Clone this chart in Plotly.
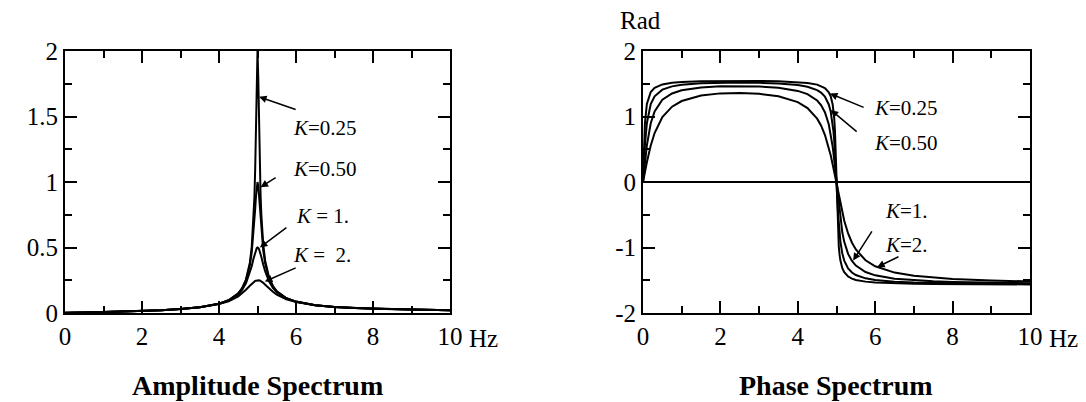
import plotly.graph_objects as go

# Frequency axis (Hz), sampled densely around the 5 Hz resonance
freq = [0, 0.02, 0.05, 0.1, 0.2, 0.3, 0.5, 0.75, 1, 1.5, 2, 2.5, 3, 3.5, 4,
        4.25, 4.5, 4.6, 4.7, 4.8, 4.85, 4.9, 4.92, 4.94, 4.96, 4.98, 5,
        5.02, 5.04, 5.06, 5.08, 5.1, 5.15, 5.2, 5.3, 5.4, 5.5, 5.75, 6,
        6.5, 7, 7.5, 8, 9, 10]

# Amplitude spectrum for each damping K
amp_k025 = [0.000, 0.000, 0.000, 0.001, 0.001, 0.002, 0.003, 0.005, 0.007, 0.011, 0.015,
            0.021, 0.030, 0.044, 0.071, 0.097, 0.150, 0.190, 0.255, 0.382, 0.505, 0.732,
            0.884, 1.100, 1.405, 1.783, 2.000, 1.791, 1.417, 1.111, 0.898, 0.747, 0.520,
            0.398, 0.271, 0.206, 0.166, 0.113, 0.087, 0.060, 0.046, 0.038, 0.033, 0.026,
            0.021]
amp_k050 = [0.001, 0.001, 0.001, 0.001, 0.001, 0.002, 0.003, 0.005, 0.007, 0.011, 0.015,
            0.021, 0.030, 0.044, 0.071, 0.097, 0.149, 0.187, 0.249, 0.362, 0.462, 0.616,
            0.700, 0.794, 0.890, 0.968, 1.000, 0.972, 0.897, 0.803, 0.711, 0.629, 0.475,
            0.377, 0.264, 0.203, 0.165, 0.113, 0.087, 0.060, 0.046, 0.038, 0.033, 0.026,
            0.021]
amp_k1 = [0.001, 0.001, 0.001, 0.001, 0.002, 0.002, 0.003, 0.005, 0.007, 0.011, 0.015,
          0.021, 0.030, 0.044, 0.070, 0.095, 0.144, 0.177, 0.227, 0.305, 0.358, 0.419,
          0.443, 0.465, 0.483, 0.495, 0.500, 0.497, 0.487, 0.471, 0.450, 0.428, 0.369,
          0.318, 0.241, 0.192, 0.159, 0.111, 0.086, 0.060, 0.046, 0.038, 0.033, 0.026,
          0.021]
amp_k2 = [0.002, 0.002, 0.002, 0.002, 0.002, 0.003, 0.004, 0.005, 0.007, 0.011, 0.015,
          0.021, 0.030, 0.043, 0.068, 0.090, 0.127, 0.150, 0.177, 0.208, 0.223, 0.237,
          0.241, 0.245, 0.247, 0.249, 0.250, 0.250, 0.249, 0.248, 0.245, 0.241, 0.230,
          0.216, 0.188, 0.162, 0.141, 0.105, 0.083, 0.059, 0.046, 0.038, 0.033, 0.026,
          0.021]

# Phase spectrum (rad) for each damping K
ph_k025 = [0.000, 0.466, 0.899, 1.192, 1.374, 1.438, 1.490, 1.515, 1.528, 1.539, 1.543,
           1.544, 1.543, 1.538, 1.525, 1.513, 1.487, 1.467, 1.435, 1.370, 1.307, 1.188,
           1.105, 0.981, 0.784, 0.462, -0.004, -0.469, -0.792, -0.990, -1.113, -1.196,
           -1.316, -1.378, -1.443, -1.476, -1.495, -1.521, -1.534, -1.547, -1.553, -1.557,
           -1.560, -1.562, -1.564]
ph_k050 = [0.000, 0.246, 0.561, 0.898, 1.191, 1.309, 1.410, 1.460, 1.485, 1.507, 1.516,
           1.518, 1.514, 1.504, 1.480, 1.455, 1.404, 1.365, 1.303, 1.184, 1.075, 0.891,
           0.780, 0.638, 0.457, 0.238, -0.008, -0.253, -0.473, -0.654, -0.796, -0.906,
           -1.091, -1.200, -1.319, -1.382, -1.420, -1.471, -1.497, -1.523, -1.536, -1.543,
           -1.548, -1.554, -1.558]
ph_k1 = [0.000, 0.125, 0.304, 0.560, 0.896, 1.079, 1.256, 1.352, 1.400, 1.444, 1.461,
         1.465, 1.458, 1.438, 1.391, 1.342, 1.244, 1.174, 1.066, 0.882, 0.739, 0.545,
         0.449, 0.344, 0.230, 0.109, -0.016, -0.141, -0.262, -0.376, -0.481, -0.576,
         -0.771, -0.914, -1.098, -1.206, -1.276, -1.375, -1.425, -1.476, -1.501, -1.516,
         -1.525, -1.537, -1.544]
ph_k2 = [0.000, 0.063, 0.156, 0.302, 0.556, 0.748, 0.991, 1.150, 1.236, 1.320, 1.353,
         1.360, 1.347, 1.308, 1.219, 1.129, 0.967, 0.863, 0.721, 0.527, 0.407, 0.271,
         0.214, 0.154, 0.093, 0.031, -0.032, -0.094, -0.156, -0.218, -0.277, -0.335,
         -0.471, -0.592, -0.785, -0.927, -1.031, -1.195, -1.287, -1.383, -1.432, -1.461,
         -1.480, -1.504, -1.518]

# Tick labels
x_tickvals = [0, 2, 4, 6, 8, 10]
x_ticktext = ["0", "2", "4", "6", "8", "10"]
amp_tickvals = [0, 0.5, 1, 1.5, 2]
amp_ticktext = ["0", "0.5", "1", "1.5", "2"]
ph_tickvals = [-2, -1, 0, 1, 2]
ph_ticktext = ["-2", "-1", "0", "1", "2"]

# Curve labels: (text, text x, text y, arrow tail x, tail y, arrow tip x, tip y)
amp_labels = [
    ("<i>K</i>=0.25", 5.88, 1.41, 6.03, 1.55, 5.04, 1.65),
    ("<i>K</i>=0.50", 5.88, 1.10, 5.51, 1.04, 5.08, 0.96),
    ("<i>K</i> = 1.", 5.95, 0.74, 5.79, 0.66, 5.06, 0.50),
    ("<i>K</i> =  2.", 5.88, 0.44, 6.03, 0.35, 5.19, 0.24),
]
ph_labels = [
    ("<i>K</i>=0.25", 5.92, 1.13, 5.74, 1.13, 4.83, 1.35),
    ("<i>K</i>=0.50", 5.92, 0.59, 5.56, 0.75, 4.85, 1.10),
    ("<i>K</i>=1.", 6.20, -0.44, 5.94, -0.73, 5.43, -1.20),
    ("<i>K</i>=2.", 6.20, -0.96, 6.64, -1.13, 6.05, -1.30),
]

SERIF = "Liberation Serif"
W, H = 1086, 402

fig = go.Figure()
line = dict(color="black", width=2)
for ys in (amp_k025, amp_k050, amp_k1, amp_k2):
    fig.add_trace(go.Scatter(x=freq, y=ys, mode="lines", line=line,
                             xaxis="x", yaxis="y", showlegend=False))
for ys in (ph_k025, ph_k050, ph_k1, ph_k2):
    fig.add_trace(go.Scatter(x=freq, y=ys, mode="lines", line=line,
                             xaxis="x2", yaxis="y2", showlegend=False))


def steps(lo, hi, step):
    n = int(round((hi - lo) / step))
    return [lo + i * step for i in range(n + 1)]


def axis(domain, rng, tickvals, ticktext, minor_step, anchor, **kw):
    return dict(
        domain=domain, range=rng, anchor=anchor, automargin=False,
        tickmode="array", tickvals=tickvals, ticktext=ticktext,
        showline=True, linecolor="black", linewidth=2, mirror="allticks",
        ticks="inside", ticklen=12, tickwidth=2, tickcolor="black",
        minor=dict(ticks="inside", ticklen=7, tickwidth=1.5, tickcolor="black",
                   tickmode="array", tickvals=steps(rng[0], rng[1], minor_step),
                   showgrid=False),
        showgrid=False, zeroline=False,
        tickfont=dict(family=SERIF, size=25, color="black"),
        fixedrange=True, **kw)


y_dom = [1 - 313 / H, 1 - 51 / H]
fig.update_layout(
    template="none",
    width=W, height=H,
    margin=dict(l=0, r=0, t=0, b=0),
    paper_bgcolor="white", plot_bgcolor="white",
    xaxis=axis([65 / W, 450 / W], [0, 10], x_tickvals, x_ticktext, 1, "y"),
    yaxis=axis(y_dom, [0, 2], amp_tickvals, amp_ticktext, 0.25, "x"),
    xaxis2=axis([643 / W, 1030 / W], [0, 10], x_tickvals, x_ticktext, 1, "y2"),
    yaxis2=axis(y_dom, [-2, 2], ph_tickvals, ph_ticktext, 0.5, "x2"),
)
fig.layout.yaxis2.update(zeroline=True, zerolinecolor="black", zerolinewidth=2)

ann = []
label_font = dict(family=SERIF, size=21, color="black")
for labels, xr, yr in ((amp_labels, "x", "y"), (ph_labels, "x2", "y2")):
    for text, tx, ty, ax, ay, hx, hy in labels:
        ann.append(dict(text=text, x=tx, y=ty, xref=xr, yref=yr, showarrow=False,
                        xanchor="left", yanchor="middle", font=label_font))
        ann.append(dict(text="", x=hx, y=hy, xref=xr, yref=yr, ax=ax, ay=ay,
                        axref=xr, ayref=yr, showarrow=True, arrowhead=2,
                        arrowsize=1, arrowwidth=1.5, arrowcolor="black"))

# Unit labels and panel titles
for xr in ("x", "x2"):
    ann.append(dict(text="Hz", x=10, y=1 - 338 / H, xref=xr, yref="paper",
                    xshift=17, xanchor="left", yanchor="middle", showarrow=False,
                    font=dict(family=SERIF, size=25, color="black")))
ann.append(dict(text="Rad", x=640 / W, y=1 - 20 / H, xref="paper", yref="paper",
                xanchor="center", yanchor="middle", showarrow=False,
                font=dict(family=SERIF, size=25, color="black")))
ann.append(dict(text="<b>Amplitude Spectrum</b>", x=257 / W, y=1 - 385 / H,
                xref="paper", yref="paper", xanchor="center", yanchor="middle",
                showarrow=False, font=dict(family=SERIF, size=28, color="black")))
ann.append(dict(text="<b>Phase Spectrum</b>", x=836 / W, y=1 - 385 / H,
                xref="paper", yref="paper", xanchor="center", yanchor="middle",
                showarrow=False, font=dict(family=SERIF, size=28, color="black")))
fig.update_layout(annotations=ann)

fig.write_html("out.html")
